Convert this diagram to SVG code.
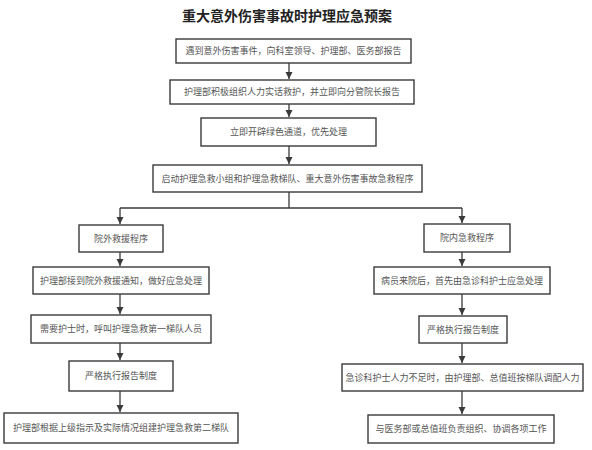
<svg xmlns="http://www.w3.org/2000/svg" width="592" height="450" viewBox="0 0 592 450">
<style>
.box{fill:#fff;stroke:#3a3a3a;stroke-width:1.4}
.t{font-family:"Liberation Sans","Noto Sans CJK SC",sans-serif;font-size:9px;fill:#555;text-anchor:middle;dominant-baseline:central}
.title{font-family:"Liberation Sans","Noto Sans CJK SC",sans-serif;font-size:14px;font-weight:bold;fill:#222;text-anchor:middle;dominant-baseline:central}
.c{fill:none;stroke:#3a3a3a;stroke-width:1.3}
</style>
<defs>
<marker id="ah" markerWidth="8" markerHeight="8" refX="7" refY="4" orient="auto" markerUnits="userSpaceOnUse">
<path d="M0,0.5 L7,4 L0,7.5 Z" fill="#3a3a3a"/>
</marker>
</defs>
<rect width="592" height="450" fill="#fff"/>
<text class="title" x="287" y="16">重大意外伤害事故时护理应急预案</text>
<g id="connectors">
<line class="c" x1="289" y1="63" x2="289" y2="79" marker-end="url(#ah)"/>
<line class="c" x1="289" y1="104" x2="289" y2="117" marker-end="url(#ah)"/>
<line class="c" x1="289" y1="146" x2="289" y2="164" marker-end="url(#ah)"/>
<polyline class="c" points="289,192 289,208"/>
<polyline class="c" points="120,208 462,208"/>
<line class="c" x1="120" y1="208" x2="120" y2="224" marker-end="url(#ah)"/>
<line class="c" x1="462" y1="208" x2="462" y2="223" marker-end="url(#ah)"/>
<line class="c" x1="120" y1="252" x2="120" y2="266" marker-end="url(#ah)"/>
<line class="c" x1="120" y1="294" x2="120" y2="314" marker-end="url(#ah)"/>
<line class="c" x1="120" y1="343" x2="120" y2="360" marker-end="url(#ah)"/>
<line class="c" x1="120" y1="391" x2="120" y2="412" marker-end="url(#ah)"/>
<line class="c" x1="462" y1="252" x2="462" y2="266" marker-end="url(#ah)"/>
<line class="c" x1="462" y1="294" x2="462" y2="315" marker-end="url(#ah)"/>
<line class="c" x1="462" y1="343" x2="462" y2="363" marker-end="url(#ah)"/>
<line class="c" x1="462" y1="391" x2="462" y2="414" marker-end="url(#ah)"/>
</g>
<g id="n1"><rect class="box" x="176" y="39" width="235" height="24"/><text class="t" x="293.5" y="51">遇到意外伤害事件，向科室领导、护理部、医务部报告</text></g>
<g id="n2"><rect class="box" x="170" y="80" width="244" height="24"/><text class="t" x="292" y="92">护理部积极组织人力实话救护，并立即向分管院长报告</text></g>
<g id="n3"><rect class="box" x="201" y="118" width="175" height="28"/><text class="t" x="288.5" y="132">立即开辟绿色通道，优先处理</text></g>
<g id="n4"><rect class="box" x="153" y="165" width="269" height="27"/><text class="t" x="287.5" y="178.5">启动护理急救小组和护理急救梯队、重大意外伤害事故急救程序</text></g>
<g id="l1"><rect class="box" x="79" y="225" width="84" height="27"/><text class="t" x="121" y="238.5">院外救援程序</text></g>
<g id="l2"><rect class="box" x="33" y="267" width="176" height="27"/><text class="t" x="121" y="280.5">护理部接到院外救援通知，做好应急处理</text></g>
<g id="l3"><rect class="box" x="31" y="315" width="180" height="28"/><text class="t" x="121" y="329">需要护士时，呼叫护理急救第一梯队人员</text></g>
<g id="l4"><rect class="box" x="69" y="361" width="104" height="30"/><text class="t" x="121" y="376">严格执行报告制度</text></g>
<g id="l5"><rect class="box" x="4" y="413" width="234" height="30"/><text class="t" x="121" y="428">护理部根据上级指示及实际情况组建护理急救第二梯队</text></g>
<g id="r1"><rect class="box" x="424" y="224" width="86" height="28"/><text class="t" x="467" y="238">院内急救程序</text></g>
<g id="r2"><rect class="box" x="374" y="267" width="176" height="27"/><text class="t" x="462" y="280.5">病员来院后，首先由急诊科护士应急处理</text></g>
<g id="r3"><rect class="box" x="419" y="316" width="88" height="27"/><text class="t" x="463" y="329.5">严格执行报告制度</text></g>
<g id="r4"><rect class="box" x="342" y="364" width="241" height="27"/><text class="t" x="462.5" y="377.5">急诊科护士人力不足时，由护理部、总值班按梯队调配人力</text></g>
<g id="r5"><rect class="box" x="368" y="415" width="186" height="28"/><text class="t" x="461" y="429">与医务部或总值班负责组织、协调各项工作</text></g>
</svg>
